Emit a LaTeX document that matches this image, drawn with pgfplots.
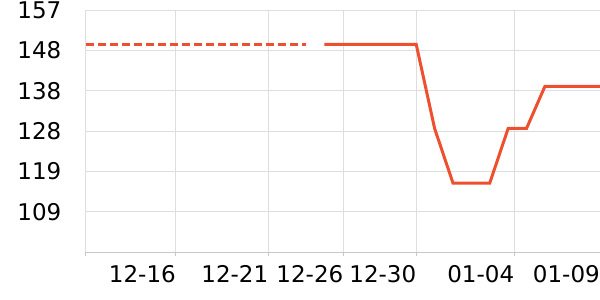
\documentclass[border=0pt]{standalone}
\usepackage{pgfplots}
\pgfplotsset{compat=1.18}
\usepackage{fontspec}
\setmainfont{DejaVu Sans}
\definecolor{lc}{RGB}{238,79,46}
\definecolor{gridc}{RGB}{222,222,222}
\definecolor{axc}{RGB}{200,200,200}
\begin{document}
\begin{tikzpicture}[x=1pt,y=1pt]
\useasboundingbox (0,0) rectangle (600,300);
\begin{axis}[
  at={(85.5pt,48pt)}, anchor=south west,
  scale only axis, width=514.5pt, height=242pt,
  xmin=0, xmax=28, ymin=99.6, ymax=157.2,
  axis x line*=bottom, axis y line*=left,
  x axis line style={draw=axc, line width=1pt, -},
  y axis line style={draw=gridc, line width=1pt, -},
  xtick={0,4.924,9.957,14.04,18.01,23.34,28},
  xticklabels={{},12-16,12-21,12-26,12-30,01-04,01-09},
  ytick={109.2,118.8,128.4,138.0,147.6,157.2},
  yticklabels={109,119,128,138,148,157},
  grid=major,
  major grid style={draw=gridc, line width=1pt},
  tick align=outside,
  x tick style={draw=axc, line width=1pt},
  major tick length=4pt,
  y tick style={draw=none},
  ticklabel style={font=\fontsize{23pt}{23pt}\selectfont, inner sep=0pt},
  xticklabel style={anchor=north east, yshift=-9pt},
  yticklabel style={anchor=east, xshift=-20pt},
  /pgf/number format/assume math mode=true,
  clip=false,
]
\addplot[lc, line width=3pt, dash pattern=on 8pt off 4pt] coordinates {
(0,149) (1,149) (2,149) (3,149) (4,149) (5,149) (6,149) (7,149) (8,149) (9,149) (10,149) (11,149) (12,149)
};
\addplot[lc, line width=3pt, line join=miter] coordinates {
(13,149) (14,149) (15,149) (16,149) (17,149) (18,149) (19,129) (20,116) (21,116) (22,116) (23,129) (24,129) (25,139) (26,139) (27,139) (28,139)
};
\end{axis}
\end{tikzpicture}
\end{document}
